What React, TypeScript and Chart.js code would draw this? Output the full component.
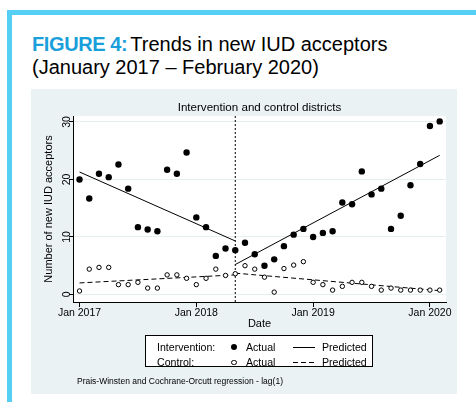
import React, { useEffect, useRef } from "react";
import { Chart, registerables } from "chart.js";

Chart.register(...registerables);

// ---------------- data ----------------
const monthLabels = [
  "Jan 2017", "Feb 2017", "Mar 2017", "Apr 2017", "May 2017", "Jun 2017",
  "Jul 2017", "Aug 2017", "Sep 2017", "Oct 2017", "Nov 2017", "Dec 2017",
  "Jan 2018", "Feb 2018", "Mar 2018", "Apr 2018", "May 2018", "Jun 2018",
  "Jul 2018", "Aug 2018", "Sep 2018", "Oct 2018", "Nov 2018", "Dec 2018",
  "Jan 2019", "Feb 2019", "Mar 2019", "Apr 2019", "May 2019", "Jun 2019",
  "Jul 2019", "Aug 2019", "Sep 2019", "Oct 2019", "Nov 2019", "Dec 2019",
  "Jan 2020", "Feb 2020",
];

const interventionActual = [
  20.0, 16.7, 21.0, 20.4, 22.6, 18.4, 11.7, 11.3, 11.0, 21.7, 21.0, 24.7,
  13.4, 11.7, 6.7, 8.0, 7.7, 9.0, 7.0, 5.0, 6.1, 8.4, 10.4, 11.4,
  10.0, 10.7, 11.0, 16.0, 15.7, 21.4, 17.4, 18.4, 11.4, 13.7, 19.0, 22.7,
  29.3, 30.1,
];

const controlActual = [
  0.6, 4.4, 4.7, 4.7, 1.7, 1.7, 2.1, 1.1, 1.1, 3.4, 3.4, 2.8,
  1.7, 2.8, 4.4, 3.3, 3.6, 5.0, 4.4, 3.0, 0.4, 4.5, 5.1, 5.7,
  2.1, 1.7, 0.75, 1.4, 2.1, 2.1, 1.4, 0.75, 1.1, 0.75, 0.75, 0.75,
  0.75, 0.75,
];

// intervention start (May 2018) and predicted segment end points
const interventionStartLabel = "May 2018";
const preSegmentLabels = ["Jan 2017", "May 2018"];
const postSegmentLabels = ["May 2018", "Feb 2020"];
const interventionPredPre = [21.3, 9.3];
const interventionPredPost = [5.2, 24.2];
const controlPredPre = [2.0, 3.4];
const controlPredPost = [3.7, 0.65];

const xTickLabels = ["Jan 2017", "Jan 2018", "Jan 2019", "Jan 2020"];
const yTickValues = [0, 10, 20, 30];

const chartTitle = "Intervention and control districts";
const xAxisTitle = "Date";
const yAxisTitle = "Number of new IUD acceptors";
const noteText = "Prais-Winsten and Cochrane-Orcutt regression - lag(1)";

// ---------------- helpers ----------------
const FONT = '"Liberation Sans", Arial, Helvetica, sans-serif';
const idx = (label: string) => monthLabels.indexOf(label);
const points = (values: number[]) => values.map((v, i) => ({ x: i, y: v }));
const segment = (labels: string[], values: number[]) =>
  labels.map((l, i) => ({ x: idx(l), y: values[i] }));

const X_MIN = -0.67;
const X_MAX = 37.65;
const Y_MIN = -1.32;
const Y_MAX = 31.04;

const plotBg = {
  id: "plotBg",
  beforeDraw(chart: any) {
    const { ctx, chartArea } = chart;
    ctx.save();
    ctx.fillStyle = "#ffffff";
    ctx.fillRect(chartArea.left, chartArea.top, chartArea.right - chartArea.left, chartArea.bottom - chartArea.top);
    ctx.restore();
  },
};

export default function App() {
  const ref = useRef<HTMLCanvasElement>(null);

  useEffect(() => {
    Chart.defaults.font.family = FONT;
    Chart.defaults.color = "#000";
    const chart = new Chart(ref.current as HTMLCanvasElement, {
      type: "scatter",
      data: {
        datasets: [
          {
            label: "Intervention: Actual",
            data: points(interventionActual),
            pointRadius: 3.2,
            pointBorderWidth: 0,
            pointBackgroundColor: "#000",
            pointBorderColor: "#000",
            showLine: false,
          },
          {
            label: "Control: Actual",
            data: points(controlActual),
            pointRadius: 2.2,
            pointBorderWidth: 1,
            pointBackgroundColor: "#fff",
            pointBorderColor: "#000",
            showLine: false,
          },
          {
            label: "Intervention: Predicted (pre)",
            data: segment(preSegmentLabels, interventionPredPre),
            showLine: true,
            borderColor: "#000",
            borderWidth: 1,
            pointRadius: 0,
          },
          {
            label: "Intervention: Predicted (post)",
            data: segment(postSegmentLabels, interventionPredPost),
            showLine: true,
            borderColor: "#000",
            borderWidth: 1,
            pointRadius: 0,
          },
          {
            label: "Control: Predicted (pre)",
            data: segment(preSegmentLabels, controlPredPre),
            showLine: true,
            borderColor: "#000",
            borderWidth: 1,
            borderDash: [5, 3],
            pointRadius: 0,
          },
          {
            label: "Control: Predicted (post)",
            data: segment(postSegmentLabels, controlPredPost),
            showLine: true,
            borderColor: "#000",
            borderWidth: 1,
            borderDash: [5, 3],
            pointRadius: 0,
          },
          {
            label: "Intervention start",
            data: [
              { x: idx(interventionStartLabel), y: Y_MIN },
              { x: idx(interventionStartLabel), y: Y_MAX },
            ],
            showLine: true,
            borderColor: "#000",
            borderWidth: 1,
            borderDash: [2, 2],
            pointRadius: 0,
          },
        ],
      },
      options: {
        responsive: false,
        animation: false,
        devicePixelRatio: 1,
        layout: { padding: { left: 0, right: 11, top: 0, bottom: 0 } },
        plugins: {
          legend: { display: false },
          tooltip: { enabled: false },
          title: {
            display: true,
            text: chartTitle,
            fullSize: false,
            color: "#000",
            font: { family: FONT, size: 11.6, weight: "normal" },
            padding: { top: 11.6, bottom: 1.5 },
          },
        },
        scales: {
          x: {
            type: "linear",
            min: X_MIN,
            max: X_MAX,
            afterBuildTicks: (s: any) => {
              s.ticks = xTickLabels.map((l) => ({ value: idx(l) }));
            },
            afterFit: (s: any) => {
              s.height = 92;
            },
            ticks: {
              callback: (v: any) => monthLabels[Number(v)],
              color: "#000",
              font: { family: FONT, size: 10.5 },
              padding: 0,
              minRotation: 0,
              maxRotation: 0,
              autoSkip: false,
            },
            grid: {
              display: true,
              drawOnChartArea: false,
              drawTicks: true,
              tickLength: 5,
              tickColor: "#000",
              color: "#000",
            },
            border: { display: true, color: "#000", width: 1 },
            title: {
              display: true,
              text: xAxisTitle,
              color: "#000",
              font: { family: FONT, size: 11 },
              padding: { top: 0, bottom: 63.5 },
            },
          },
          y: {
            type: "linear",
            min: Y_MIN,
            max: Y_MAX,
            afterBuildTicks: (s: any) => {
              s.ticks = yTickValues.map((v) => ({ value: v }));
            },
            afterFit: (s: any) => {
              s.width = 42;
            },
            ticks: {
              color: "#000",
              font: { family: FONT, size: 10.5 },
              minRotation: 90,
              maxRotation: 90,
              crossAlign: "center",
              padding: -4,
            },
            grid: {
              display: true,
              drawOnChartArea: true,
              drawTicks: true,
              tickLength: 4,
              tickColor: "#000",
              color: "#e6eef0",
            },
            border: { display: true, color: "#000", width: 1 },
            title: {
              display: true,
              text: yAxisTitle,
              color: "#000",
              font: { family: FONT, size: 11 },
              padding: { top: 11.7, bottom: 0 },
            },
          },
        },
      } as any,
      plugins: [plotBg],
    });
    return () => chart.destroy();
  }, []);

  const legendText: React.CSSProperties = {
    position: "absolute",
    fontSize: 10.6,
    lineHeight: "14px",
    whiteSpace: "nowrap",
    color: "#000",
  };

  return (
    <div
      style={{
        position: "absolute",
        left: 0,
        top: 0,
        width: 476,
        height: 402,
        background: "#fff",
        overflow: "hidden",
        fontFamily: FONT,
      }}
    >
      {/* cyan frame */}
      <div style={{ position: "absolute", left: 7, top: 10, width: 469, height: 5, background: "#55cff4" }} />
      <div style={{ position: "absolute", left: 7, top: 10, width: 5, height: 392, background: "#55cff4" }} />

      {/* heading */}
      <div
        style={{
          position: "absolute",
          left: 32,
          top: 32.8,
          fontSize: 20,
          lineHeight: "23.5px",
          color: "#000",
          whiteSpace: "nowrap",
        }}
      >
        <span style={{ color: "#1a9fdb", fontWeight: "bold", letterSpacing: "-0.4px" }}>FIGURE 4:</span>
        <span style={{ marginLeft: 3 }}>Trends in new IUD acceptors</span>
        <br />
        (January 2017 – February 2020)
      </div>

      {/* graph region */}
      <div style={{ position: "absolute", left: 31, top: 89, width: 426, height: 305, background: "#eaf2f3" }}>
        <canvas ref={ref} width={426} height={305} style={{ position: "absolute", left: 0, top: 0, width: 426, height: 305 }} />
      </div>

      {/* legend */}
      <div
        style={{
          position: "absolute",
          left: 145,
          top: 335,
          width: 226,
          height: 30,
          border: "1px solid #000",
          background: "#fff",
        }}
      />
      <div style={{ ...legendText, left: 157, top: 340 }}>Intervention:</div>
      <div style={{ ...legendText, left: 157, top: 355.3 }}>Control:</div>
      <div style={{ position: "absolute", left: 231, top: 344, width: 6, height: 6, borderRadius: "50%", background: "#000" }} />
      <div
        style={{
          position: "absolute",
          left: 231.3,
          top: 359.5,
          width: 3.5,
          height: 3.5,
          borderRadius: "50%",
          border: "1px solid #000",
          background: "#fff",
        }}
      />
      <div style={{ ...legendText, left: 246, top: 340 }}>Actual</div>
      <div style={{ ...legendText, left: 246, top: 355.3 }}>Actual</div>
      <svg style={{ position: "absolute", left: 293, top: 340, width: 23, height: 30 }} width={23} height={30}>
        <line x1={0} y1={7.5} x2={22} y2={7.5} stroke="#000" strokeWidth={1} />
        <line x1={0} y1={22.5} x2={22} y2={22.5} stroke="#000" strokeWidth={1} strokeDasharray="5 3" />
      </svg>
      <div style={{ ...legendText, left: 322, top: 340 }}>Predicted</div>
      <div style={{ ...legendText, left: 322, top: 355.3 }}>Predicted</div>

      {/* note */}
      <div
        style={{
          position: "absolute",
          left: 77,
          top: 376,
          fontSize: 8.5,
          lineHeight: "11px",
          whiteSpace: "nowrap",
          color: "#000",
        }}
      >
        {noteText}
      </div>
    </div>
  );
}
